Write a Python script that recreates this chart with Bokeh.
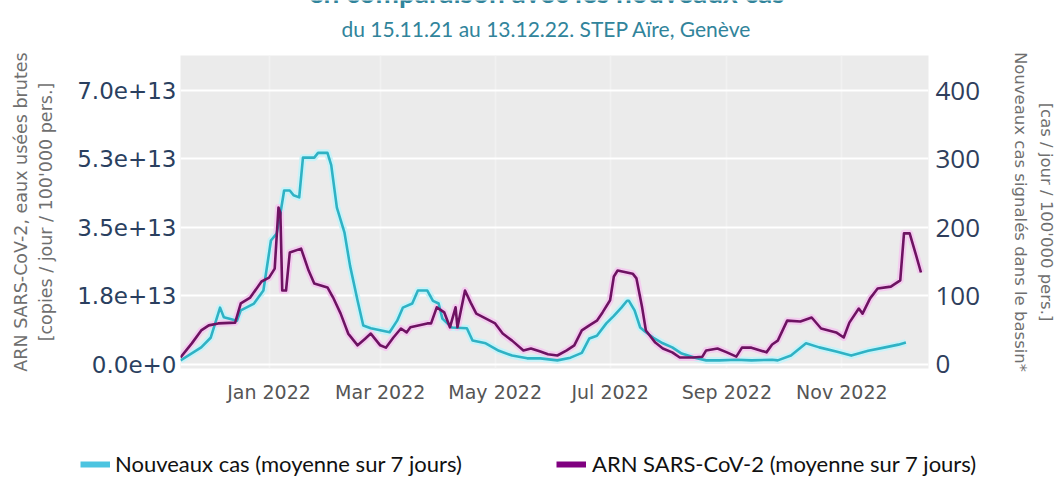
import pandas as pd
from bokeh.plotting import figure
from bokeh.layouts import column
from bokeh.models import (Range1d, LinearAxis, FixedTicker, DatetimeTickFormatter,
                          Label, Legend, LegendItem)
from bokeh.embed import file_html
from bokeh.resources import INLINE

# ---------------- data ----------------
cas_dates = ["2021-11-15", "2021-11-26", "2021-12-01", "2021-12-06", "2021-12-08", "2021-12-15",
             "2021-12-17", "2021-12-24", "2021-12-29", "2022-01-02", "2022-01-05", "2022-01-07",
             "2022-01-09", "2022-01-12", "2022-01-14", "2022-01-17", "2022-01-19", "2022-01-25",
             "2022-01-27", "2022-02-01", "2022-02-03", "2022-02-06", "2022-02-10", "2022-02-13",
             "2022-02-17", "2022-02-20", "2022-02-24", "2022-03-01", "2022-03-06", "2022-03-10",
             "2022-03-13", "2022-03-18", "2022-03-21", "2022-03-26", "2022-03-29", "2022-04-01",
             "2022-04-03", "2022-04-08", "2022-04-16", "2022-04-19", "2022-04-26", "2022-05-03",
             "2022-05-10", "2022-05-18", "2022-05-25", "2022-06-03", "2022-06-10", "2022-06-16",
             "2022-06-20", "2022-06-24", "2022-06-29", "2022-07-03", "2022-07-07", "2022-07-10",
             "2022-07-11", "2022-07-14", "2022-07-17", "2022-07-20", "2022-07-24", "2022-07-29",
             "2022-08-03", "2022-08-08", "2022-08-16", "2022-08-21", "2022-08-28", "2022-09-06",
             "2022-09-14", "2022-09-25", "2022-09-28", "2022-10-05", "2022-10-13", "2022-10-20",
             "2022-10-29", "2022-11-06", "2022-11-15", "2022-11-24", "2022-12-01", "2022-12-05"]
cas_values = [6, 25, 39, 83, 69, 64,
              79, 89, 108, 181, 191, 220,
              254, 254, 247, 244, 302, 302,
              309, 309, 291, 229, 193, 144,
              93, 57, 53, 50, 47, 64,
              83, 89, 108, 108, 93, 89,
              67, 54, 53, 35, 31, 20,
              13, 9, 9, 6, 10, 17,
              38, 42, 60, 71, 83, 93,
              93, 79, 54, 47, 39, 31,
              25, 16, 9, 6, 6, 7,
              6, 7, 6, 13, 31, 25,
              19, 13, 20, 25, 29, 32]

arn_dates = ["2021-11-15", "2021-11-21", "2021-11-26", "2021-11-30", "2021-12-05", "2021-12-14",
             "2021-12-17", "2021-12-22", "2021-12-28", "2022-01-01", "2022-01-04", "2022-01-06",
             "2022-01-07", "2022-01-08", "2022-01-10", "2022-01-12", "2022-01-18", "2022-01-22",
             "2022-01-25", "2022-02-01", "2022-02-04", "2022-02-08", "2022-02-12", "2022-02-17",
             "2022-02-21", "2022-02-24", "2022-03-01", "2022-03-04", "2022-03-08", "2022-03-12",
             "2022-03-15", "2022-03-17", "2022-03-26", "2022-03-28", "2022-03-31", "2022-04-04",
             "2022-04-07", "2022-04-10", "2022-04-11", "2022-04-15", "2022-04-18", "2022-04-21",
             "2022-05-01", "2022-05-05", "2022-05-10", "2022-05-16", "2022-05-20", "2022-05-25",
             "2022-05-29", "2022-06-03", "2022-06-08", "2022-06-12", "2022-06-16", "2022-06-20",
             "2022-06-24", "2022-06-27", "2022-07-01", "2022-07-03", "2022-07-05", "2022-07-13",
             "2022-07-15", "2022-07-18", "2022-07-20", "2022-07-25", "2022-07-29", "2022-08-03",
             "2022-08-07", "2022-08-14", "2022-08-19", "2022-08-21", "2022-08-27", "2022-09-01",
             "2022-09-06", "2022-09-09", "2022-09-14", "2022-09-22", "2022-09-25", "2022-09-28",
             "2022-10-03", "2022-10-10", "2022-10-16", "2022-10-21", "2022-10-29", "2022-11-02",
             "2022-11-05", "2022-11-10", "2022-11-12", "2022-11-16", "2022-11-20", "2022-11-27",
             "2022-12-02", "2022-12-04", "2022-12-07", "2022-12-10", "2022-12-13"]
arn_values = [0.18e13, 0.54e13, 0.87e13, 1.00e13, 1.05e13, 1.07e13,
              1.56e13, 1.71e13, 2.12e13, 2.22e13, 2.45e13, 4.01e13,
              3.88e13, 1.89e13, 1.89e13, 2.86e13, 2.96e13, 2.40e13,
              2.07e13, 1.97e13, 1.71e13, 1.30e13, 0.79e13, 0.49e13,
              0.66e13, 0.79e13, 0.49e13, 0.43e13, 0.69e13, 0.92e13,
              0.82e13, 0.95e13, 1.05e13, 1.05e13, 1.46e13, 1.33e13,
              0.95e13, 1.46e13, 0.95e13, 1.89e13, 1.58e13, 1.30e13,
              1.05e13, 0.79e13, 0.61e13, 0.36e13, 0.41e13, 0.33e13,
              0.26e13, 0.23e13, 0.36e13, 0.49e13, 0.87e13, 1.00e13,
              1.12e13, 1.33e13, 1.64e13, 2.25e13, 2.40e13, 2.32e13,
              2.20e13, 1.46e13, 0.87e13, 0.56e13, 0.41e13, 0.31e13,
              0.18e13, 0.18e13, 0.20e13, 0.36e13, 0.41e13, 0.31e13,
              0.20e13, 0.43e13, 0.43e13, 0.31e13, 0.51e13, 0.61e13,
              1.12e13, 1.10e13, 1.20e13, 0.92e13, 0.82e13, 0.69e13,
              1.07e13, 1.43e13, 1.30e13, 1.69e13, 1.94e13, 1.99e13,
              2.15e13, 3.35e13, 3.35e13, 2.86e13, 2.35e13]

month_ticks = ["2022-01-01", "2022-03-01", "2022-05-01", "2022-07-01", "2022-09-01", "2022-11-01"]
left_ticks = [0, 17500000000000, 35000000000000, 52500000000000, 70000000000000]
left_tick_labels = ["0.0e+0", "1.8e+13", "3.5e+13", "5.3e+13", "7.0e+13"]
right_ticks = [0, 100, 200, 300, 400]

title_text = "en comparaison avec les nouveaux cas"
subtitle_text = "du 15.11.21 au 13.12.22. STEP Aïre, Genève"
left_label_1 = "ARN SARS-CoV-2, eaux usées brutes"
left_label_2 = "[copies / jour / 100'000 pers.]"
right_label_1 = "Nouveaux cas signalés dans le bassin*"
right_label_2 = "[cas / jour / 100'000 pers.]"
legend_cas = "Nouveaux cas (moyenne sur 7 jours)"
legend_arn = "ARN SARS-CoV-2 (moyenne sur 7 jours)"

# ---------------- styles ----------------
CYAN = "#2fb2c4"
CYAN_HALO = "#c8f2f8"
PURPLE = "#6e1262"
PURPLE_HALO = "#f3cdef"
TEAL = "#31849b"
BG = "#ebebeb"
AXIS_TITLE = "#6f6f6f"

W = 1058
HEAD_H = 47
FOOT_H = 59
MAIN_H = 489 - HEAD_H - FOOT_H
B_LEFT, B_RIGHT = 180, 128


def blank(height, left, right):
    f = figure(width=W, height=height, x_range=Range1d(0, 1), y_range=Range1d(0, 1),
               x_axis_location=None, y_axis_location=None,
               min_border_left=left, min_border_right=right, min_border_top=0, min_border_bottom=0,
               output_backend="svg", toolbar_location=None,
               background_fill_color="white", border_fill_color="white", outline_line_color=None)
    f.xgrid.visible = False
    f.ygrid.visible = False
    return f


# ---------------- header strip (title cut at top + subtitle) ----------------
head = blank(HEAD_H, B_LEFT, B_RIGHT)
head.add_layout(Label(x=546 - B_LEFT, y=HEAD_H - 8, x_units="screen", y_units="screen",
                      text=title_text, text_align="center", text_baseline="bottom",
                      text_font="Lato", text_font_style="bold", text_font_size="28px",
                      text_color=TEAL))
head.add_layout(Label(x=546 - B_LEFT, y=HEAD_H - 28, x_units="screen", y_units="screen",
                      text=subtitle_text, text_align="center", text_baseline="middle",
                      text_font="Lato", text_font_size="21px", text_color=TEAL))

# ---------------- main chart ----------------
cas_x = pd.to_datetime(cas_dates)
arn_x = pd.to_datetime(arn_dates)
tick_ms = [int(pd.Timestamp(d).value // 10**6) for d in month_ticks]

p = figure(width=W, height=MAIN_H, x_axis_type="datetime",
           x_range=Range1d(pd.Timestamp("2021-11-15"), pd.Timestamp("2022-12-17")),
           y_range=Range1d(-1.022e12, 7.894e13),
           output_backend="svg", toolbar_location=None,
           min_border_left=B_LEFT, min_border_right=B_RIGHT,
           min_border_top=55 - HEAD_H, min_border_bottom=HEAD_H + MAIN_H - 368,
           background_fill_color=BG, border_fill_color="white", outline_line_color=None)
p.extra_y_ranges = {"cas": Range1d(-5.84, 451.1)}

p.ygrid.ticker = FixedTicker(ticks=left_ticks)
p.ygrid.grid_line_color = "white"
p.ygrid.grid_line_width = 2
p.xgrid.ticker = FixedTicker(ticks=tick_ms)
p.xgrid.grid_line_color = "#f1f1f1"
p.xgrid.grid_line_width = 1.5


def plain(axis):
    axis.axis_line_color = None
    axis.major_tick_line_color = None
    axis.minor_tick_line_color = None
    axis.major_tick_out = 0
    axis.minor_tick_out = 0
    axis.major_tick_in = 0
    axis.minor_tick_in = 0


def title_style(axis, standoff, size):
    axis.axis_label_standoff = standoff
    axis.axis_label_text_font = "DejaVu Sans"
    axis.axis_label_text_font_size = size
    axis.axis_label_text_font_style = "normal"
    axis.axis_label_text_color = AXIS_TITLE


xa = p.xaxis[0]
plain(xa)
xa.ticker = FixedTicker(ticks=tick_ms)
xa.formatter = DatetimeTickFormatter(days="%b %Y", months="%b %Y", years="%b %Y")
xa.major_label_standoff = 12
xa.major_label_text_font = "DejaVu Sans"
xa.major_label_text_font_size = "19px"
xa.major_label_text_color = "#555555"

ya = p.yaxis[0]
plain(ya)
ya.ticker = FixedTicker(ticks=left_ticks)
ya.major_label_overrides = {t: s for t, s in zip(left_ticks, left_tick_labels)}
ya.major_label_standoff = 4
ya.major_label_text_font = "DejaVu Sans"
ya.major_label_text_font_size = "23px"
ya.major_label_text_color = "#2a3f5f"
ya.axis_label = left_label_2
title_style(ya, 18, "17.5px")

ya2 = LinearAxis(ticker=FixedTicker(ticks=[]), axis_label=left_label_1)
plain(ya2)
title_style(ya2, 3, "17.5px")
p.add_layout(ya2, "left")

ra = LinearAxis(y_range_name="cas", ticker=FixedTicker(ticks=right_ticks), axis_label=right_label_1)
plain(ra)
ra.major_label_standoff = 7
ra.major_label_text_font = "Open Sans"
ra.major_label_text_font_size = "26px"
ra.major_label_text_color = "#2f3e5c"
title_style(ra, 28, "16.5px")
p.add_layout(ra, "right")

ra2 = LinearAxis(y_range_name="cas", ticker=FixedTicker(ticks=[]), axis_label=right_label_2)
plain(ra2)
title_style(ra2, 3, "16.5px")
p.add_layout(ra2, "right")

p.line(cas_x, cas_values, y_range_name="cas", line_color=CYAN_HALO, line_width=7, line_join="round")
p.line(arn_x, arn_values, line_color=PURPLE_HALO, line_width=7, line_join="round")
p.line(cas_x, cas_values, y_range_name="cas", line_color=CYAN, line_width=2.6, line_join="round")
p.line(arn_x, arn_values, line_color=PURPLE, line_width=2.6, line_join="round")

# ---------------- footer strip with the legend (separate root, full-width frame) ----------------
foot = blank(FOOT_H, 0, 0)
r_leg_cas = foot.line(x=[-10, -9], y=[-10, -10], line_color="#4cc4e0", line_width=6)
r_leg_arn = foot.line(x=[-10, -9], y=[-10, -10], line_color="#800080", line_width=6)
for r, lab, loc, so in [(r_leg_cas, legend_cas, (80, 12), 5),
                        (r_leg_arn, legend_arn, (556, 12), 6)]:
    lg = Legend(items=[LegendItem(label=lab, renderers=[r])], location=loc,
                orientation="horizontal", padding=0, margin=0, spacing=0,
                glyph_width=30, glyph_height=22, label_height=22, label_standoff=so,
                border_line_color=None, background_fill_alpha=0,
                label_text_font="Lato", label_text_font_size="22px", label_text_color="#111111")
    foot.add_layout(lg)

top = column(head, p, spacing=0)
open("out.html", "w").write(file_html([top, foot], INLINE))
